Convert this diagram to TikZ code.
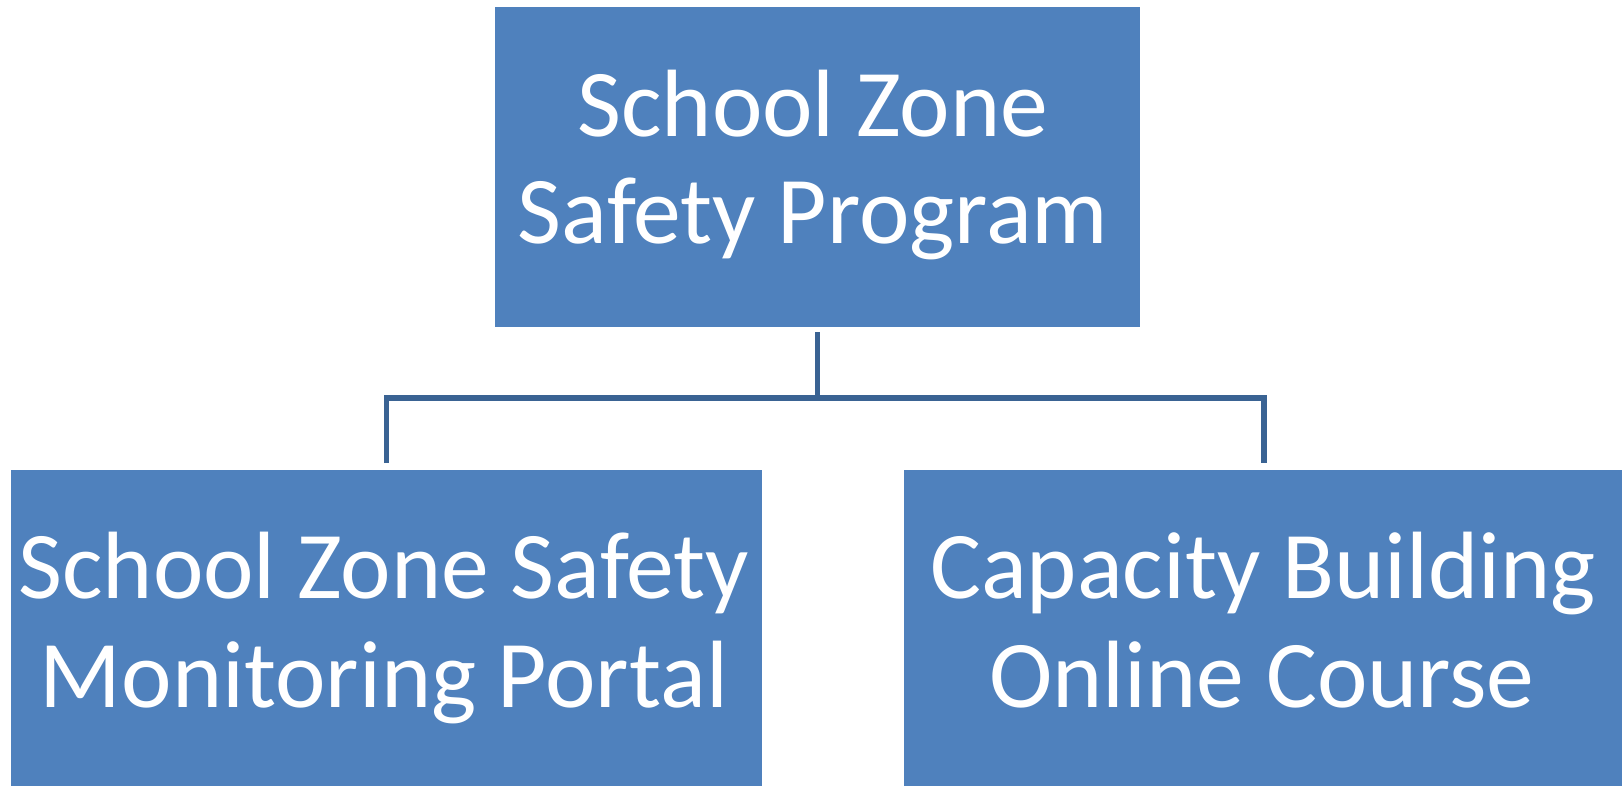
\documentclass[tikz,border=0pt]{standalone}
\usepackage{fontspec}
\setmainfont{Carlito}
\definecolor{boxblue}{HTML}{4F81BD}
\definecolor{lineblue}{HTML}{3A6393}
\tikzset{
  orgbox/.style={rectangle, fill=boxblue, draw=none, inner sep=0pt, outer sep=0pt},
  boxtext/.style={text=white, anchor=base, inner sep=0pt, font=\fontsize{96}{110}\selectfont},
  conn/.style={draw=lineblue, line width=5.5bp}
}
\begin{document}
\begin{tikzpicture}[x=1bp, y=-1bp]
\useasboundingbox (0,0) rectangle (1622,786);
\begin{scope}
\clip (0,0) rectangle (1622,786);
\node[orgbox, minimum width=645bp, minimum height=320bp] (top) at (817.5,167) {};
\node[orgbox, minimum width=751bp, minimum height=320bp] (bl) at (386.5,630) {};
\node[orgbox, minimum width=720bp, minimum height=320bp] (br) at (1264,630) {};
\end{scope}
% texts
\node[boxtext] (t1) at (813,136) {School Zone};
\node[boxtext] (t2) at (813,243) {Safety Program};
\node[boxtext] (l1) at (384,598) {School Zone Safety};
\node[boxtext] (l2) at (384,707) {Monitoring Portal};
\node[boxtext] (r1) at (1263,598) {Capacity Building};
\node[boxtext] (r2) at (1262,707) {Online Course};
% connectors
\coordinate (j) at (817.5,398);
\draw[conn] ([yshift=-5bp]top.south) -- (j);
\draw[conn] ([yshift=7bp]bl.north) |- (j) -| ([yshift=7bp]br.north);
\end{tikzpicture}
\end{document}
